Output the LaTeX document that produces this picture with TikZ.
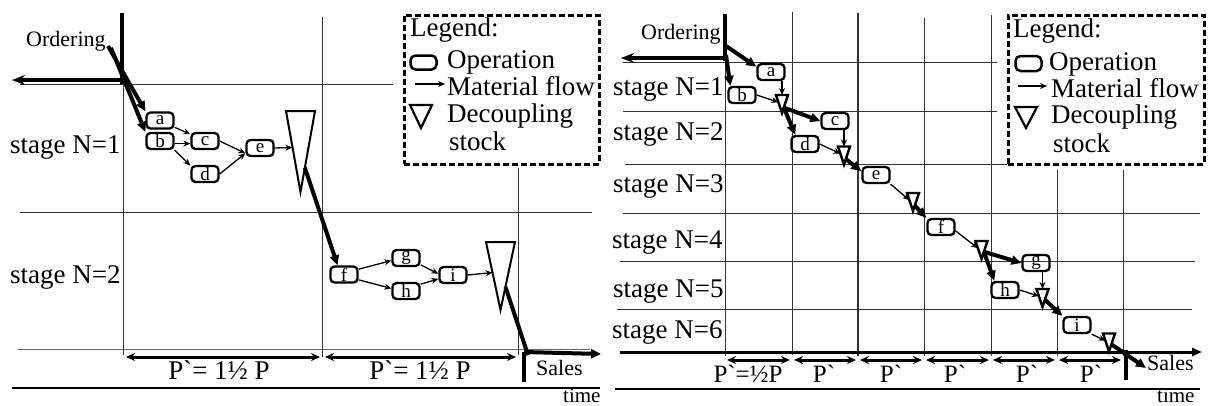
\documentclass[tikz,border=0pt]{standalone}
\usepackage{fontspec}
\setmainfont{Liberation Serif}
\newfontfamily\tf{Liberation Serif}
\usetikzlibrary{arrows.meta,calc}
\begin{document}
\begin{tikzpicture}[x=1pt,y=-1pt,
 grid/.style={line width=1pt,black!80},
 op/.style={draw,line width=2.3pt,rounded corners=4pt,minimum width=27pt,minimum height=16pt,inner sep=0pt,font=\fontsize{19}{19}\selectfont},
 flow/.style={line width=1.3pt,-{Stealth[length=7pt,width=6pt]}},
 big/.style={line width=4pt,-{Triangle[length=10pt,width=9pt]}},
 bigline/.style={line width=4pt},
 bar/.style={line width=4.5pt},
 tri/.style={line width=2pt,line join=miter},
 trinode/.style={inner sep=0pt,outer sep=0pt},
 txt/.style={inner sep=0pt,anchor=base west},
 big27/.style={txt,font=\fontsize{27}{30}\selectfont},
 small21/.style={txt,font=\fontsize{21}{24}\selectfont},
 per/.style={line width=3pt,{Stealth[length=9pt,width=8pt]}-{Stealth[length=9pt,width=8pt]}},
 legbox/.style={draw,line width=2.5pt,dash pattern=on 6pt off 3pt,inner sep=0pt,anchor=north west},
 plbl/.style={inner sep=0pt,anchor=base,font=\tf\fontsize{26}{30}\selectfont},
]
\useasboundingbox (0,0) rectangle (1208,405);

%================ LEFT PANEL =================
\draw[grid] (20,84) -- (393,84);
\draw[grid] (20,212) -- (592,212);
\draw[grid,black!60] (18,349) -- (590,349);
\draw[grid] (123,84) -- (123,355);
\draw[grid] (322,17) -- (322,357);
\draw[grid] (518,168) -- (518,355);
\draw[line width=2pt] (12,388) -- (600,388);

% ordering
\coordinate (oLtop) at (122,13);
\coordinate (oLbot) at (122,84);
\coordinate (oLarr) at (124,80);
\coordinate (oLend) at (12,80);
\draw[bar] (oLtop) -- (oLbot);
\draw[line width=4pt,-{Stealth[length=13pt,width=10pt]}] (oLarr) -- (oLend);
\node[small21,font=\fontsize{22}{24}\selectfont] (ordL) at (26,46) {Ordering};
\coordinate (oL) at (108,46);
\coordinate (oL2) at (111,48);

% stage labels
\node[big27] (s1L) at (10,153) {stage N=1};
\node[big27] (s2L) at (10,283) {stage N=2};

% operations stage 1
\node[op] (a) at (160,120.5) {a};
\node[op] (b) at (160,141) {b};
\node[op] (c) at (205,141) {c};
\node[op] (d) at (205,174) {d};
\node[op] (e) at (260,148) {e};
\node[trinode,minimum width=29pt,minimum height=81pt] (T1) at (300.5,151.5) {};
\draw[tri] (T1.north west) -- (T1.north east) -- (T1.south) -- cycle;

\draw[big] (oL) -- (a.north west);
\draw[big] (oL2) -- (b.north west);
\draw[flow] (a.-25) -- (c.155);
\draw[flow] (b.-10) -- (c.190);
\draw[flow] (b.south east) -- (d.150);
\draw[flow] (c.east) -- (e.200);
\draw[flow] (d.east) -- (e.200);
\draw[flow] (e.east) -- ($(T1.north west)!0.45!(T1.south)$);

% stage 2
\node[op] (f) at (344,274.5) {f};
\node[op] (g) at (406,258) {g};
\node[op] (h) at (406,291) {h};
\node[op] (i) at (453,275) {i};
\node[trinode,minimum width=29pt,minimum height=68pt] (T2) at (500.5,276) {};
\draw[tri] (T2.north west) -- (T2.north east) -- (T2.south) -- cycle;

\draw[big] ($(T1.north east)!0.7!(T1.south)$) -- (f.125);
\draw[flow] (f.20) -- (g.190);
\draw[flow] (f.-20) -- (h.170);
\draw[flow] (g.-25) -- (i.175);
\draw[flow] (h.25) -- (i.195);
\draw[flow] (i.east) -- ($(T2.north west)!0.45!(T2.south)$);

% sales
\coordinate (slL) at (528,355);
\coordinate (slLend) at (601,354);
\coordinate (sbLt) at (524,352);
\coordinate (sbLb) at (524,382);
\draw[bigline] ($(T2.north east)!0.66!(T2.south)$) -- (slL);
\draw[line width=4pt,-{Triangle[length=10pt,width=9pt]}] (sbLt) -- (slLend);
\draw[bar] (sbLt) -- (sbLb);
\node[txt,font=\fontsize{22}{24}\selectfont] (salesL) at (536,375) {Sales};
\node[small21] (timeL) at (563,402) {time};

% periods
\coordinate (pL0) at (126,357);
\coordinate (pL1) at (320,357);
\coordinate (pL2) at (325,357);
\coordinate (pL3) at (516,357);
\draw[per] (pL0) -- (pL1);
\draw[per] (pL2) -- (pL3);
\node[plbl,font=\tf\fontsize{27}{30}\selectfont] (pl1) at (219,379) {P`= 1½ P};
\node[plbl,font=\tf\fontsize{27}{30}\selectfont] (pl2) at (420,379) {P`= 1½ P};

% legend left
\node[legbox,minimum width=195pt,minimum height=149pt] (legL) at (403,14) {};
\node[big27] (lgL0) at (410,36) {Legend:};
\node[draw,line width=2.5pt,rounded corners=5pt,minimum width=26pt,minimum height=14pt,inner sep=0pt] (icL1) at (423.5,62.5) {};
\node[big27] (lgL1) at (447,68) {Operation};
\coordinate (icL2a) at (415,84);
\coordinate (icL2b) at (445,84);
\draw[flow] (icL2a) -- (icL2b);
\node[big27] (lgL2) at (447,95) {Material flow};
\node[trinode,minimum width=22pt,minimum height=23pt] (icL3) at (421,116.5) {};
\draw[tri,line width=2.2pt] (icL3.north west) -- (icL3.north east) -- (icL3.south) -- cycle;
\node[big27] (lgL3) at (447,122) {Decoupling};
\node[big27] (lgL4) at (449,150) {stock};

%================ RIGHT PANEL =================
\draw[grid] (623,62) -- (997,62);
\draw[grid] (623,111) -- (997,111);
\draw[grid] (625,164) -- (1007,164);
\draw[grid] (623,213) -- (1200,213);
\draw[grid] (620,261) -- (1195,261);
\draw[grid] (617,309) -- (1192,309);
\draw[grid] (725,60) -- (725,356);
\draw[grid] (792,12) -- (792,355);
\draw[grid,line width=1.4pt] (858,13) -- (858,356);
\draw[grid] (924,18) -- (924,356);
\draw[grid] (991,15) -- (991,356);
\draw[grid] (1057,170) -- (1057,356);
\draw[grid] (1123,170) -- (1123,356);
\coordinate (axR0) at (620,352);
\coordinate (axR1) at (1202,352);
\draw[line width=3pt,-{Triangle[length=10pt,width=8pt]}] (axR0) -- (axR1);
\draw[line width=2pt] (615,389) -- (1200,389);

% ordering
\coordinate (oRtop) at (725,14);
\coordinate (oRbot) at (725,61);
\coordinate (oRarr) at (727,58);
\coordinate (oRend) at (621,58);
\draw[bar] (oRtop) -- (oRbot);
\draw[line width=4pt,-{Stealth[length=13pt,width=10pt]}] (oRarr) -- (oRend);
\node[small21,font=\fontsize{22}{24}\selectfont] (ordR) at (641,39) {Ordering};
\coordinate (oR) at (726,46);
\coordinate (oR2) at (726,55);

% stage labels
\node[big27] (r1) at (613,95) {stage N=1};
\node[big27] (r2) at (613,140) {stage N=2};
\node[big27] (r3) at (613,192) {stage N=3};
\node[big27] (r4) at (612,248) {stage N=4};
\node[big27] (r5) at (613,297) {stage N=5};
\node[big27] (r6) at (612,338) {stage N=6};

% ops
\node[op] (ra) at (771,72) {a};
\node[op] (rb) at (742,95) {b};
\node[op] (rc) at (835,121) {c};
\node[op] (rd) at (805,144) {d};
\node[op] (re) at (876,175) {e};
\node[op] (rf) at (941,227) {f};
\node[op] (rg) at (1036,263) {g};
\node[op] (rh) at (1005,290) {h};
\node[op] (ri) at (1077,325) {i};

\tikzset{rtri/.style={trinode,minimum width=12pt,minimum height=18pt}}
\node[rtri] (R1) at (782,104) {};
\node[rtri] (R2) at (844,155.5) {};
\node[rtri] (R3) at (913,202) {};
\node[rtri] (R4) at (981.5,250) {};
\node[rtri] (R5) at (1042.5,298) {};
\node[rtri] (R6) at (1109,342.5) {};
\foreach \t in {R1,R2,R3,R4,R5,R6}
  \draw[tri,line width=2.4pt] (\t.north west) -- (\t.north east) -- (\t.south) -- cycle;

\draw[big] (oR) -- (ra.160);
\draw[big] (oR2) -- ($(rb.north west)+(3,0)$);
\draw[flow] (ra.south -| R1.north) -- (R1.north);
\draw[flow] (rb.east) -- ($(R1.north west)!0.4!(R1.south)$);
\draw[big] ($(R1.north east)!0.7!(R1.south)$) -- (rc.west);
\draw[big] ($(R1.north east)!0.7!(R1.south)$) -- ($(rd.north west)+(5,0)$);
\draw[flow] (rc.south -| R2.north) -- (R2.north);
\draw[flow] (rd.east) -- ($(R2.north west)!0.4!(R2.south)$);
\draw[big] ($(R2.north east)!0.7!(R2.south)$) -- (re.165);
\draw[flow] (re.south east) -- ($(R3.north west)!0.4!(R3.south)$);
\draw[big] ($(R3.north east)!0.7!(R3.south)$) -- (rf.north west);
\draw[flow] (rf.-15) -- ($(R4.north west)!0.4!(R4.south)$);
\draw[big] ($(R4.north east)!0.6!(R4.south)$) -- (rg.west);
\draw[big] ($(R4.north east)!0.6!(R4.south)$) -- ($(rh.north west)+(4,0)$);
\draw[flow] (rg.south -| R5.north) -- (R5.north);
\draw[flow] (rh.east) -- ($(R5.north west)!0.4!(R5.south)$);
\draw[big] ($(R5.north east)!0.6!(R5.south)$) -- (ri.north west);
\draw[flow] (ri.south east) -- ($(R6.north west)!0.4!(R6.south)$);
\coordinate (slR) at (1146,368);
\draw[big] ($(R6.north east)!0.6!(R6.south)$) -- (slR);

% sales
\coordinate (sbRt) at (1126,350);
\coordinate (sbRb) at (1126,380);
\draw[bar] (sbRt) -- (sbRb);
\node[txt,font=\fontsize{22}{24}\selectfont] (salesR) at (1147,370) {Sales};
\node[small21] (timeR) at (1157,402) {time};

% periods
\foreach \xa/\xb [count=\k] in {725/792,792/858,858/924,924/991,991/1057,1057/1123}{
  \coordinate (pa\k) at (\xa+2,360);
  \coordinate (pb\k) at (\xb-2,360);
  \draw[per] (pa\k) -- (pb\k);
}
\node[plbl,font=\tf\fontsize{25}{30}\selectfont] (q1) at (748,382) {P`=½P};
\node[plbl,font=\tf\fontsize{25}{30}\selectfont] (q2) at (824,382) {P`};
\node[plbl,font=\tf\fontsize{25}{30}\selectfont] (q3) at (891,382) {P`};
\node[plbl,font=\tf\fontsize{25}{30}\selectfont] (q4) at (955,382) {P`};
\node[plbl,font=\tf\fontsize{25}{30}\selectfont] (q5) at (1027,382) {P`};
\node[plbl,font=\tf\fontsize{25}{30}\selectfont] (q6) at (1091,382) {P`};

% legend right
\node[legbox,minimum width=196pt,minimum height=149pt] (legR) at (1007,14) {};
\node[big27] (lgR0) at (1013,37) {Legend:};
\node[draw,line width=2.5pt,rounded corners=5pt,minimum width=26pt,minimum height=15pt,inner sep=0pt] (icR1) at (1028.5,63.5) {};
\node[big27] (lgR1) at (1049,70) {Operation};
\coordinate (icR2a) at (1018,86);
\coordinate (icR2b) at (1047,86);
\draw[flow] (icR2a) -- (icR2b);
\node[big27] (lgR2) at (1051,97) {Material flow};
\node[trinode,minimum width=22pt,minimum height=21pt] (icR3) at (1026,117.5) {};
\draw[tri,line width=2.2pt] (icR3.north west) -- (icR3.north east) -- (icR3.south) -- cycle;
\node[big27] (lgR3) at (1051,123) {Decoupling};
\node[big27] (lgR4) at (1053,152) {stock};
\end{tikzpicture}
\end{document}
